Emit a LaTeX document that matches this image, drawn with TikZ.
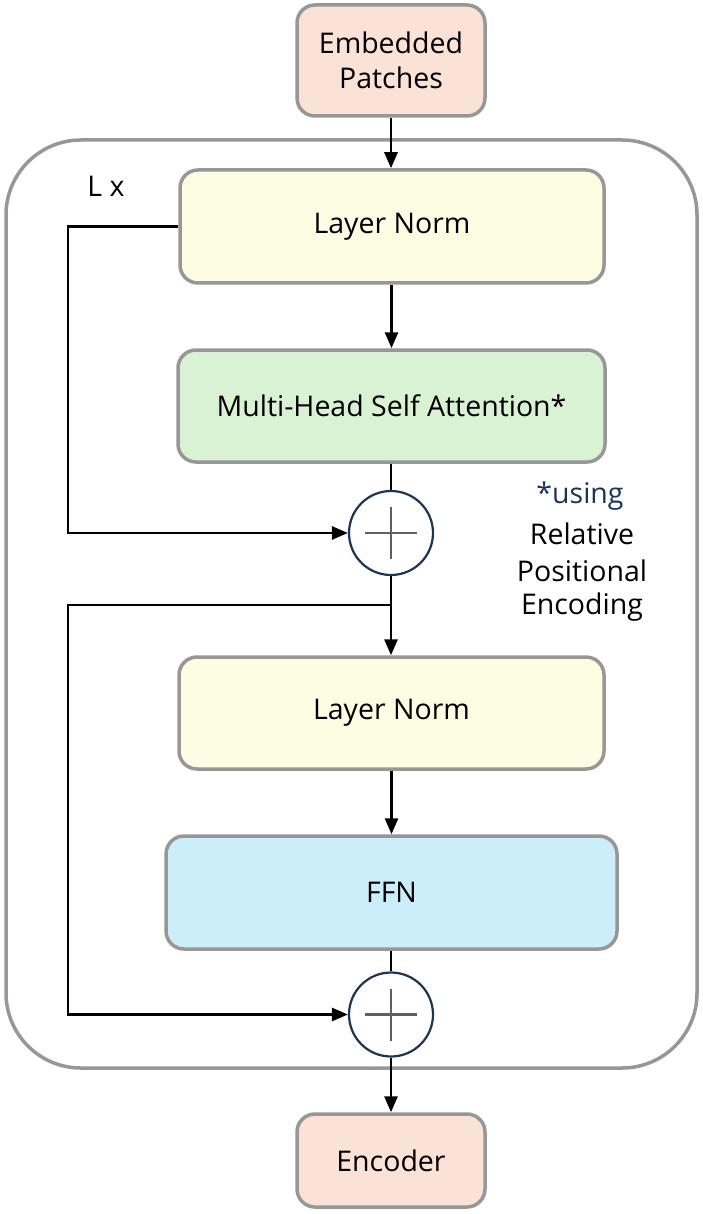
\documentclass[tikz,border=0pt]{standalone}
\usepackage{fontspec}
\setmainfont{Open Sans}
\usetikzlibrary{arrows.meta}
\definecolor{bordergray}{HTML}{979797}
\definecolor{peach}{HTML}{FBE2D6}
\definecolor{paleyellow}{HTML}{FDFDE3}
\definecolor{palegreen}{HTML}{D9F2D4}
\definecolor{paleblue}{HTML}{CCEEFB}
\definecolor{navy}{HTML}{1C3557}
\definecolor{plusgray}{HTML}{606060}
\tikzset{
  blk/.style={draw=bordergray, line width=3.5pt, rounded corners=18pt, inner sep=0pt, align=center,
    font=\fontsize{28.5}{35}\selectfont},
  addnode/.style={circle, draw=navy, line width=2.2pt, fill=white, minimum size=84pt, inner sep=0pt},
  arr/.style={line width=2.8pt, -{Triangle[length=16pt,width=13pt]}},
  ln/.style={line width=2.8pt},
  note/.style={font=\fontsize{28.5}{35}\selectfont, inner sep=0pt}
}
\begin{document}
\begin{tikzpicture}[x=1pt,y=-1pt]
\useasboundingbox (0,0) rectangle (703,1214);
% outer block
\draw[draw=bordergray, line width=3.5pt, rounded corners=75pt] (6,140) rectangle (697,1068);
% nodes
\node[blk, fill=peach, minimum width=188pt, minimum height=111pt] (ep) at (391,60.5) {Embedded\\Patches};
\node[blk, fill=paleyellow, minimum width=424pt, minimum height=113pt] (ln1) at (392,226.5) {Layer Norm};
\node[blk, fill=palegreen, minimum width=427pt, minimum height=112pt] (mhsa) at (391.5,406) {Multi-Head Self Attention*};
\node[addnode] (c1) at (391,533) {};
\node[blk, fill=paleyellow, minimum width=425pt, minimum height=112pt] (ln2) at (391.5,713) {Layer Norm};
\node[blk, fill=paleblue, minimum width=451pt, minimum height=113pt] (ffn) at (391.5,892.5) {FFN};
\node[addnode] (c2) at (391,1014.5) {};
\node[blk, fill=peach, minimum width=188pt, minimum height=93pt] (enc) at (391,1160.5) {Encoder};
% plus signs
\foreach \c in {c1,c2}{
  \draw[plusgray, line width=2.8pt] ([xshift=-26pt]\c.center) -- ([xshift=26pt]\c.center);
  \draw[plusgray, line width=2.8pt] ([yshift=-26pt]\c.center) -- ([yshift=26pt]\c.center);
}
% labels
\node[note] (lx) at (106,186) {L x};
\node[note, text=navy] (n1) at (580,496) {*using};
\node[note] (n2) at (582,534) {Relative};
\node[note] (n3) at (582,571) {Positional};
\node[note] (n4) at (582,607) {Encoding};
% main flow
\draw[arr] (ep.south) -- (ep.south |- ln1.north);
\draw[arr] (ln1.south -| mhsa.north) -- (mhsa.north);
\draw[ln] (mhsa.south -| c1.north) -- (c1.north);
\draw[arr] (c1.south) -- (ln2.north -| c1.south);
\draw[arr] (ln2.south -| ffn.north) -- (ffn.north);
\draw[ln] (ffn.south -| c2.north) -- (c2.north);
\draw[arr] (c2.south) -- (enc.north -| c2.south);
% skip connections
\coordinate (k1) at (68,226.5);
\draw[arr] (ln1.west) -- (k1) |- (c1.west);
\coordinate (b2) at (391,605);
\coordinate (k2) at (68,605);
\draw[arr] (b2) -- (k2) |- (c2.west);
\end{tikzpicture}
\end{document}
